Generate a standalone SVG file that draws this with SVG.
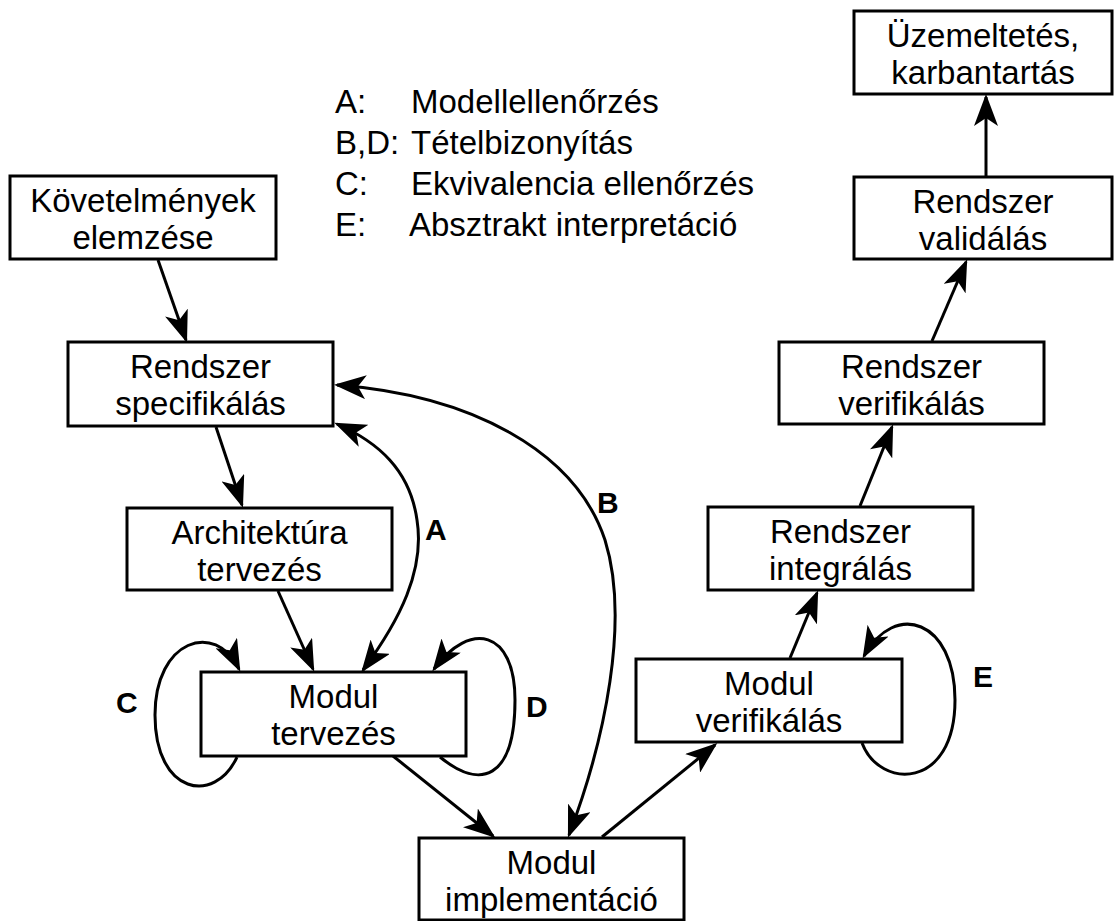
<svg xmlns="http://www.w3.org/2000/svg" width="1114" height="921" viewBox="0 0 1114 921">
  <defs>
    <style>
      .box { fill: #ffffff; stroke: #000000; stroke-width: 3; }
      .lbl { font-family: "Liberation Sans", Arial, sans-serif; font-size: 33px; fill: #000000; text-anchor: middle; }
      .leg { font-family: "Liberation Sans", Arial, sans-serif; font-size: 33px; fill: #000000; }
      .tag { font-family: "Liberation Sans", Arial, sans-serif; font-size: 30px; font-weight: bold; fill: #000000; }
      .edge { fill: none; stroke: #000000; stroke-width: 3; marker-end: url(#arrow); }
      .both { marker-start: url(#arrow); }
    </style>
    <marker id="arrow" viewBox="0 0 32 24" refX="29" refY="12" markerWidth="32" markerHeight="24" markerUnits="userSpaceOnUse" orient="auto-start-reverse">
      <path d="M32,12 L0,0 L8,12 L0,24 Z" fill="#000000"/>
    </marker>
  </defs>

  <rect width="1114" height="921" fill="#ffffff"/>

  <!-- legend -->
  <g id="legend">
    <text class="leg" x="335" y="113">A:</text>
    <text class="leg" x="411" y="113">Modellellenőrzés</text>
    <text class="leg" x="335" y="154">B,D:</text>
    <text class="leg" x="411" y="154">Tételbizonyítás</text>
    <text class="leg" x="335" y="195">C:</text>
    <text class="leg" x="411" y="195">Ekvivalencia ellenőrzés</text>
    <text class="leg" x="335" y="236">E:</text>
    <text class="leg" x="409" y="236">Absztrakt interpretáció</text>
  </g>

  <!-- connectors -->
  <g id="connectors">
    <path class="edge" d="M158,260 L186,340"/>
    <path class="edge" d="M216,427 L242,505"/>
    <path class="edge" d="M278,591 L313,669"/>
    <path class="edge both" d="M363,670 C400,620 425,570 417,520 C410,470 378,442 337,424"/>
    <path class="edge both" d="M337,385 C470,395 575,450 605,540 C630,620 605,740 569,835"/>
    <path class="edge" d="M237,757 C215,805 155,795 155,715 C155,640 215,620 239,669"/>
    <path class="edge" d="M440,757 C480,790 515,780 515,700 C515,630 470,620 434,669"/>
    <path class="edge" d="M393,756 L493,836"/>
    <path class="edge" d="M602,837 L715,745"/>
    <path class="edge" d="M790,658 L817,593"/>
    <path class="edge" d="M862,743 C880,790 955,790 955,700 C955,620 895,600 864,656"/>
    <path class="edge" d="M860,506 L892,427"/>
    <path class="edge" d="M932,341 L966,262"/>
    <path class="edge" d="M986,176 L986,97"/>
  </g>

  <!-- edge tags -->
  <g id="tags">
    <text class="tag" x="425" y="540">A</text>
    <text class="tag" x="597" y="513">B</text>
    <text class="tag" x="116" y="713">C</text>
    <text class="tag" x="526" y="717">D</text>
    <text class="tag" x="973" y="687">E</text>
  </g>

  <g id="kovetelmenyek">
    <rect class="box" x="10" y="176" width="266" height="83"/>
    <text class="lbl" x="143" y="212">Követelmények</text>
    <text class="lbl" x="143" y="249">elemzése</text>
  </g>

  <g id="rendszer-specifikalas">
    <rect class="box" x="68" y="342" width="265" height="84"/>
    <text class="lbl" x="200.5" y="378">Rendszer</text>
    <text class="lbl" x="200.5" y="415">specifikálás</text>
  </g>

  <g id="architektura-tervezes">
    <rect class="box" x="127" y="508" width="265" height="82"/>
    <text class="lbl" x="259.5" y="544">Architektúra</text>
    <text class="lbl" x="259.5" y="581">tervezés</text>
  </g>

  <g id="modul-tervezes">
    <rect class="box" x="201" y="672" width="265" height="84"/>
    <text class="lbl" x="333.5" y="708">Modul</text>
    <text class="lbl" x="333.5" y="745">tervezés</text>
  </g>

  <g id="modul-implementacio">
    <rect class="box" x="419" y="838" width="265" height="82"/>
    <text class="lbl" x="551.5" y="874">Modul</text>
    <text class="lbl" x="551.5" y="911">implementáció</text>
  </g>

  <g id="modul-verifikalas">
    <rect class="box" x="636" y="659" width="266" height="83"/>
    <text class="lbl" x="769" y="695">Modul</text>
    <text class="lbl" x="769" y="732">verifikálás</text>
  </g>

  <g id="rendszer-integralas">
    <rect class="box" x="708" y="507" width="265" height="83"/>
    <text class="lbl" x="840.5" y="543">Rendszer</text>
    <text class="lbl" x="840.5" y="580">integrálás</text>
  </g>

  <g id="rendszer-verifikalas">
    <rect class="box" x="779" y="342" width="265" height="82"/>
    <text class="lbl" x="911.5" y="378">Rendszer</text>
    <text class="lbl" x="911.5" y="415">verifikálás</text>
  </g>

  <g id="rendszer-validalas">
    <rect class="box" x="854" y="177" width="258" height="82"/>
    <text class="lbl" x="983" y="213">Rendszer</text>
    <text class="lbl" x="983" y="250">validálás</text>
  </g>

  <g id="uzemeltetes">
    <rect class="box" x="854" y="11" width="258" height="83"/>
    <text class="lbl" x="983" y="47">Üzemeltetés,</text>
    <text class="lbl" x="983" y="84">karbantartás</text>
  </g>
</svg>
